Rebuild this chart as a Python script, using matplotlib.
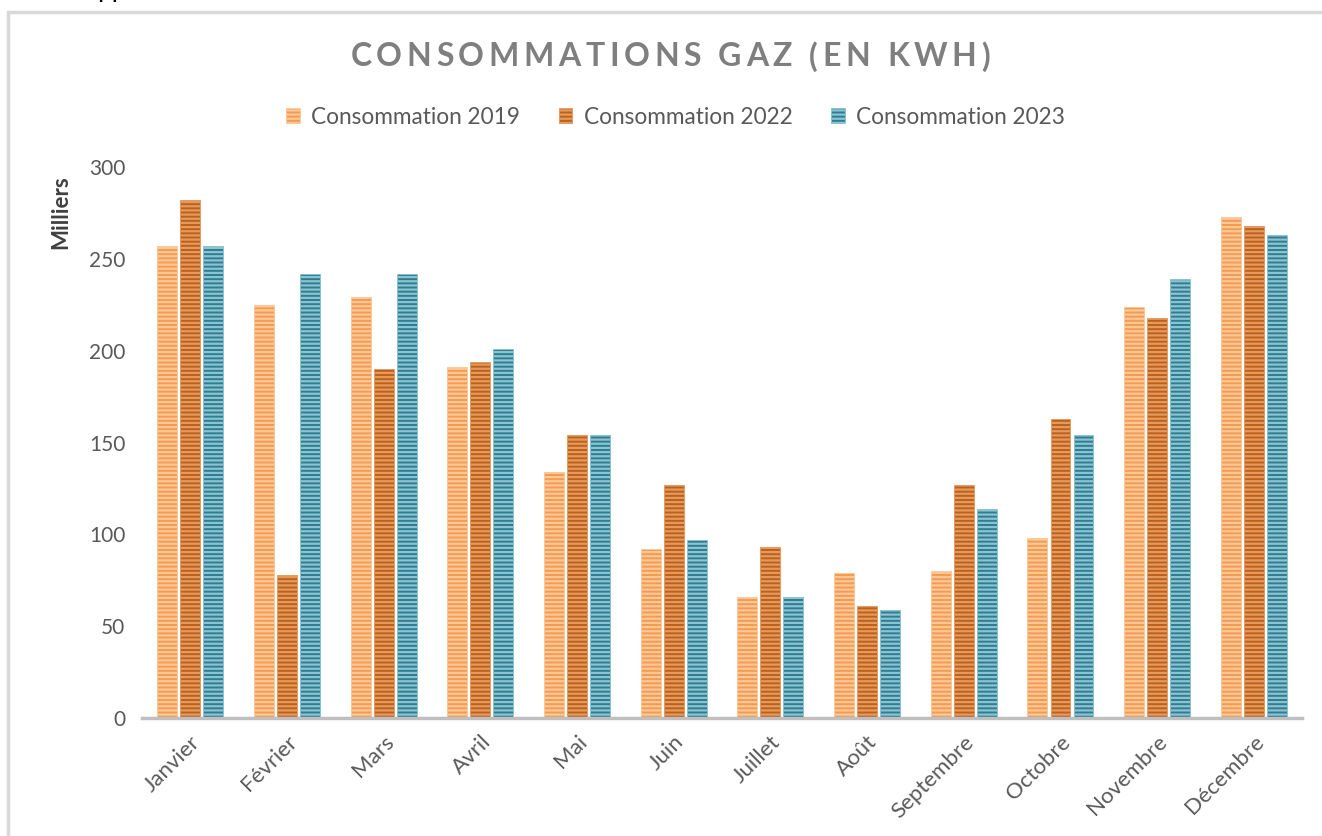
import matplotlib.pyplot as plt
import numpy as np
from matplotlib.patches import Rectangle

mois = ['Janvier', 'Février', 'Mars', 'Avril', 'Mai', 'Juin', 'Juillet',
        'Août', 'Septembre', 'Octobre', 'Novembre', 'Décembre']
conso_2019 = [257, 225, 229, 191, 134, 92, 66, 79, 80, 98, 224, 273]
conso_2022 = [282, 78, 190, 194, 154, 127, 93, 61, 127, 163, 218, 268]
conso_2023 = [257, 242, 242, 201, 154, 97, 66, 59, 114, 154, 239, 263]
labels = ['Consommation 2019', 'Consommation 2022', 'Consommation 2023']
yticks = [0, 50, 100, 150, 200, 250, 300]
titre = 'CONSOMMATIONS GAZ (EN KWH)'

# (fond, rayures)
styles = [('#F59A4E', '#FBC89A'), ('#BF5F1A', '#E39A5E'), ('#2E7D91', '#8CC3D2')]

plt.rcParams['font.family'] = ['Lato', 'DejaVu Sans']
plt.rcParams['hatch.linewidth'] = 1.6

fig = plt.figure(figsize=(13.22, 8.36), dpi=100)
ax = fig.add_axes([0.1074, 0.1411, 0.8776, 0.6591])

x = np.arange(len(mois))
pitch = 0.238
width = 0.206
for k, (vals, lab, (fc, hc)) in enumerate(zip([conso_2019, conso_2022, conso_2023], labels, styles)):
    ax.bar(x + (k - 1) * pitch, vals, width, color=fc, edgecolor=hc,
           hatch='----', linewidth=0.6, label=lab)

ax.set_xlim(-0.5, 11.5)
ax.set_ylim(0, 300)
ax.set_yticks(yticks)
ax.set_xticks(x)
ax.set_xticklabels(mois, rotation=45, ha='right', rotation_mode='anchor')
ax.tick_params(axis='y', length=0, labelsize=15, colors='#595959', pad=12)
ax.tick_params(axis='x', length=0, labelsize=16, colors='#595959', pad=10)
for s in ['top', 'right', 'left']:
    ax.spines[s].set_visible(False)
ax.spines['bottom'].set_color('#bfbfbf')
ax.spines['bottom'].set_linewidth(2.5)

# titre avec espacement des lettres
renderer = fig.canvas.get_renderer()
tracking = 4.6
chars = []
for c in titre:
    t = fig.text(0, 0.932, c, ha='left', va='center', fontsize=23,
                 fontweight='bold', color='#7f7f7f')
    chars.append((t, t.get_window_extent(renderer).width))
total = sum(w for _, w in chars) + tracking * (len(chars) - 1)
xpos = 670 - total / 2
for t, w in chars:
    t.set_x(xpos / 1322)
    xpos += w + tracking

fig.text(0.046, 0.746, 'Milliers', rotation=90, ha='center', va='center',
         fontsize=16, fontweight='bold', color='#404040')

fig.legend(loc='center', bbox_to_anchor=(0.511, 0.86), ncol=3, frameon=False,
           fontsize=16.3, handlelength=0.6, handleheight=0.6, handletextpad=0.5,
           columnspacing=1.7, labelcolor='#595959')

# cadre gris et fragment de texte coupé en haut
fig.patches.append(Rectangle((8 / 1322, -0.1), 1.2, 1 - 12 / 836 + 0.1,
                             transform=fig.transFigure, fill=False,
                             edgecolor='#d9d9d9', linewidth=2.5))
fig.text(97 / 1322, 1 + 3 / 836, 'pp', fontsize=19, color='black', va='baseline')

fig.savefig('out.png', dpi=100)
